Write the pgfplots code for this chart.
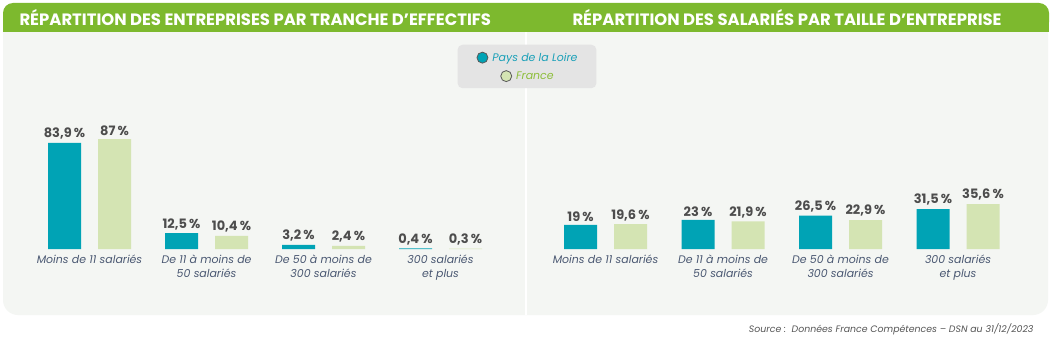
\documentclass[border=0pt]{standalone}
\usepackage{pgfplots}
\pgfplotsset{compat=1.18}
\usepackage{fontspec}
\setmainfont{Poppins}
\definecolor{teal1}{HTML}{00A3B5}
\definecolor{lgreen}{HTML}{D4E4B3}
\definecolor{hgreen}{HTML}{7DB92E}
\definecolor{panel}{HTML}{F4F6F3}
\definecolor{legbg}{HTML}{E4E4E4}
\definecolor{valcol}{HTML}{4D4D4D}
\definecolor{catcol}{HTML}{4A5872}
\definecolor{paystxt}{HTML}{1AA0B8}
\definecolor{frtxt}{HTML}{8DBE3A}
\definecolor{srccol}{HTML}{555555}

\pgfplotsset{mybars/.style={
  ybar, bar width=33bp, scale only axis,
  width=468bp, height=126.4bp, ymin=0, ymax=100, xmin=-0.5, xmax=3.5,
  xtick={0,1,2,3}, ytick=\empty, axis line style={draw=none}, major tick length=0pt,
  clip=false,
  xticklabels={Moins de 11 salariés, {De 11 à moins de\\50 salariés}, {De 50 à moins de\\300 salariés}, {300 salariés\\et plus}},
  xticklabel style={font=\fontsize{11}{14}\selectfont\itshape, text=catcol, align=center, yshift=-2.5bp},
  /pgf/number format/assume math mode=true,
  nodes near coords={\pgfmathprintnumber[use comma,fixed,precision=1]{\pgfplotspointmeta}\,\%},
  every node near coord/.append style={font=\fontsize{13}{14}\selectfont\bfseries, text=valcol, yshift=0bp},
}}

\begin{document}
\begin{tikzpicture}[x=1bp,y=1bp]
\fill[white] (0,0) rectangle (1053,340);
\fill[panel, rounded corners=15bp] (3,25) rectangle (1048,320);
\fill[panel] (3,300) rectangle (1048,308);
\fill[hgreen, rounded corners=10bp] (3,308) rectangle (1049,337);
\fill[hgreen] (3,308) rectangle (1049,318);
\draw[white, line width=1.5bp] (526,25) -- (526,308);
\node[anchor=west, text=white, font=\fontsize{16.5}{18}\selectfont\bfseries] at (16,322) {RÉPARTITION DES ENTREPRISES PAR TRANCHE D’EFFECTIFS};
\node[anchor=west, text=white, font=\fontsize{16.5}{18}\selectfont\bfseries] at (569,322) {RÉPARTITION DES SALARIÉS PAR TAILLE D’ENTREPRISE};
\node[anchor=east, text=srccol, font=\fontsize{9.4}{11}\selectfont\itshape] at (1037,11) {Source :\ \ Données France Compétences – DSN au 31/12/2023};

\begin{axis}[mybars, at={(31bp,91bp)}, anchor=south west,
  legend style={at={(1.0598,1.444)}, anchor=center, fill=legbg, draw=none, rounded corners=5bp,
    inner xsep=17bp, inner ysep=5bp, font=\fontsize{11}{13}\selectfont\itshape, row sep=3.5bp},
  legend cell align=center]
\addplot+[forget plot, bar shift=-25bp, fill=teal1, draw=none] coordinates {(0,83.9) (1,12.5) (2,3.2) (3,0.4)};
\addplot+[forget plot, bar shift=25bp, fill=lgreen, draw=none] coordinates {(0,87) (1,10.4) (2,2.4) (3,0.3)};
\addlegendimage{empty legend}
\addlegendentry{\tikz[baseline=-0.6ex]\draw[fill=teal1, draw=gray!70!black, line width=0.8bp] (0,0) circle (5.5bp);\hspace{4bp}\textcolor{paystxt}{Pays de la Loire}}
\addlegendimage{empty legend}
\addlegendentry{\tikz[baseline=-0.6ex]\draw[fill=lgreen, draw=gray!70!black, line width=0.8bp] (0,0) circle (5.5bp);\hspace{4bp}\textcolor{frtxt}{France}}
\end{axis}

\begin{axis}[mybars, width=470bp, at={(546.75bp,91bp)}, anchor=south west]
\addplot+[bar shift=-25bp, fill=teal1, draw=none] coordinates {(0,19) (1,23) (2,26.5) (3,31.5)};
\addplot+[bar shift=25bp, fill=lgreen, draw=none] coordinates {(0,19.6) (1,21.9) (2,22.9) (3,35.6)};
\end{axis}
\end{tikzpicture}
\end{document}
